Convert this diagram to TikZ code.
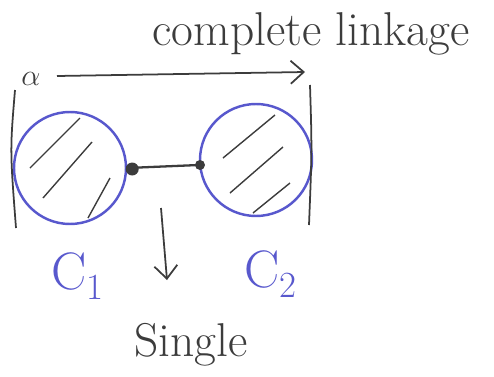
\documentclass[tikz,border=0pt]{standalone}
\usepackage{tikz}
\usetikzlibrary{arrows.meta, positioning}
\definecolor{penblue}{RGB}{88,88,205}
\definecolor{pengray}{RGB}{60,60,60}

\begin{document}
\begin{tikzpicture}[x=0.2mm, y=-0.2mm,
    every node/.style={font=\fontsize{27}{30}\selectfont, text=pengray},
    cluster/.style={circle, draw=penblue, line width=1.4pt, minimum size=22.4mm, inner sep=0pt},
    hatch/.style={pengray, line width=0.8pt},
    pen/.style={pengray, line width=1pt},
    barb/.style={-{Straight Barb[length=2.6mm, width=4.6mm]}}]
    \useasboundingbox (0,0) rectangle (494,377);

    \node (title) at (311,34) {complete linkage};
    \node[font=\fontsize{18}{20}\selectfont] (alpha) at (31,79) {$\alpha$};
    \node[cluster] (c1) at (70,168) {};
    \node[cluster] (c2) at (256,160) {};
    \node[text=penblue, font=\fontsize{30}{32}\selectfont] (lc1) at (78,276) {C\textsubscript{1}};
    \node[text=penblue, font=\fontsize{30}{32}\selectfont] (lc2) at (271,274) {C\textsubscript{2}};
    \node (single) at (191,345) {Single};

    % dimension line
    \coordinate (dimL) at (57,76);
    \coordinate (dimR) at (305,72);
    \draw[pen, barb] (dimL) -- (dimR);
    \draw[pen] (15,90) .. controls (10,150) .. (16,228);
    \draw[pen] (310,85) .. controls (312,150) .. (309,225);

    % hatching
    \draw[hatch] (30,168) -- (80,118);
    \draw[hatch] (43,198) -- (92,142);
    \draw[hatch] (88,218) -- (110,178);
    \draw[hatch] (223,158) -- (275,115);
    \draw[hatch] (230,193) -- (283,147);
    \draw[hatch] (253,213) -- (290,183);

    % single link
    \draw[pen, line width=1.3pt] (c1.east) -- (c2.185);
    \fill[pengray] (c1.east) ++(5,1) circle (1.3mm);
    \fill[pengray] (c2.185) ++(1,0) circle (1mm);

    \coordinate (down) at (161,208);
    \draw[pen, barb] (down) -- ++(6,72);
\end{tikzpicture}
\end{document}
